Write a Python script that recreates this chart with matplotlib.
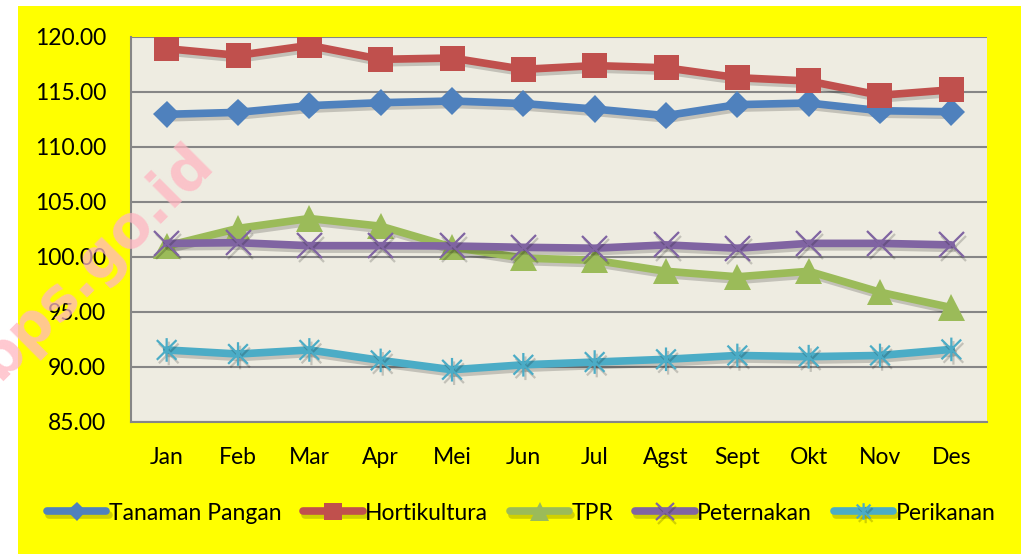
import matplotlib
matplotlib.use("Agg")
import matplotlib.pyplot as plt
from matplotlib import patches
from matplotlib.path import Path
import matplotlib.patheffects as pe

months = ["Jan", "Feb", "Mar", "Apr", "Mei", "Jun", "Jul", "Agst", "Sept", "Okt", "Nov", "Des"]
tanaman_pangan = [112.97, 113.15, 113.76, 114.03, 114.18, 113.95, 113.45, 112.85, 113.85, 114.0, 113.3, 113.2]
hortikultura = [118.94, 118.33, 119.24, 117.97, 118.09, 117.06, 117.4, 117.2, 116.3, 116.0, 114.7, 115.2]
tpr = [101.0, 102.6, 103.5, 102.8, 100.9, 99.9, 99.7, 98.7, 98.2, 98.7, 96.8, 95.4]
peternakan = [101.24, 101.3, 101.03, 101.03, 101.0, 100.88, 100.8, 101.1, 100.8, 101.24, 101.24, 101.1]
perikanan = [91.55, 91.18, 91.55, 90.6, 89.75, 90.2, 90.45, 90.7, 91.05, 90.94, 91.05, 91.6]

# asterisk marker: X plus a vertical bar
star_path = Path(
    [(-1, -1), (1, 1), (-1, 1), (1, -1), (0, -1.2), (0, 1.2)],
    [Path.MOVETO, Path.LINETO, Path.MOVETO, Path.LINETO, Path.MOVETO, Path.LINETO],
)

series = [
    ("Tanaman Pangan", tanaman_pangan, "#4F81BD", "D", 14),
    ("Hortikultura", hortikultura, "#C0504D", "s", 18),
    ("TPR", tpr, "#9BBB59", "^", 19),
    ("Peternakan", peternakan, "#8064A2", "x", 18),
    ("Perikanan", perikanan, "#4BACC6", star_path, 17),
]

plt.rcParams['font.family'] = ['Lato', 'DejaVu Sans']

fig = plt.figure(figsize=(10.24, 5.54), dpi=100, facecolor="white")
fig.patches.append(patches.Rectangle((18 / 1024, 0), 1003 / 1024, 1 - 6 / 554,
                                     transform=fig.transFigure, facecolor="#FFFF00",
                                     edgecolor="none", zorder=-10))
ax = fig.add_axes([131 / 1024, 1 - 422 / 554, 856 / 1024, 385 / 554])
ax.set_facecolor("#EEECE1")

x = list(range(len(months)))
shadow = [pe.SimpleLineShadow(offset=(1.5, -2.5), alpha=0.18, shadow_color="black"), pe.Normal()]
for name, vals, color, marker, ms in series:
    thin = marker in ("x",) or isinstance(marker, Path)
    ax.plot(x, vals, color=color, linewidth=5.5, marker=marker, markersize=ms,
            markeredgewidth=1.6 if thin else 0, markeredgecolor=color,
            markerfacecolor=color, label=name, path_effects=shadow, zorder=3,
            solid_capstyle="round")

ax.set_xlim(-0.5, len(months) - 0.5)
ax.set_ylim(85, 120)
ax.set_yticks(range(85, 121, 5))
ax.set_yticklabels([f"{v:.2f}" for v in range(85, 121, 5)])
ax.set_xticks(x)
ax.set_xticklabels(months)
ax.tick_params(axis="both", length=0, labelsize=16.5)
ax.tick_params(axis="y", pad=18)
ax.tick_params(axis="x", pad=18)
ax.grid(axis="y", color="#868686", linewidth=1.5)
ax.set_axisbelow(True)
for s in ["top", "right"]:
    ax.spines[s].set_visible(False)
for s in ["left", "bottom"]:
    ax.spines[s].set_color("#868686")
    ax.spines[s].set_linewidth(1.5)

fig.legend(loc="center", bbox_to_anchor=(0.509, 1 - 513 / 554), ncol=5, frameon=False,
           fontsize=16.5, handlelength=2.6, handletextpad=0.1, columnspacing=0.95,
           markerscale=0.7)

fig.text(95 / 1024, 1 - 262 / 554, "bps.go.id", rotation=45, fontsize=42,
         fontweight="bold", color="#FFB6C1", alpha=0.75, ha="center", va="center",
         family="DejaVu Sans", zorder=10)

fig.savefig("out.png", dpi=100, facecolor=fig.get_facecolor())
